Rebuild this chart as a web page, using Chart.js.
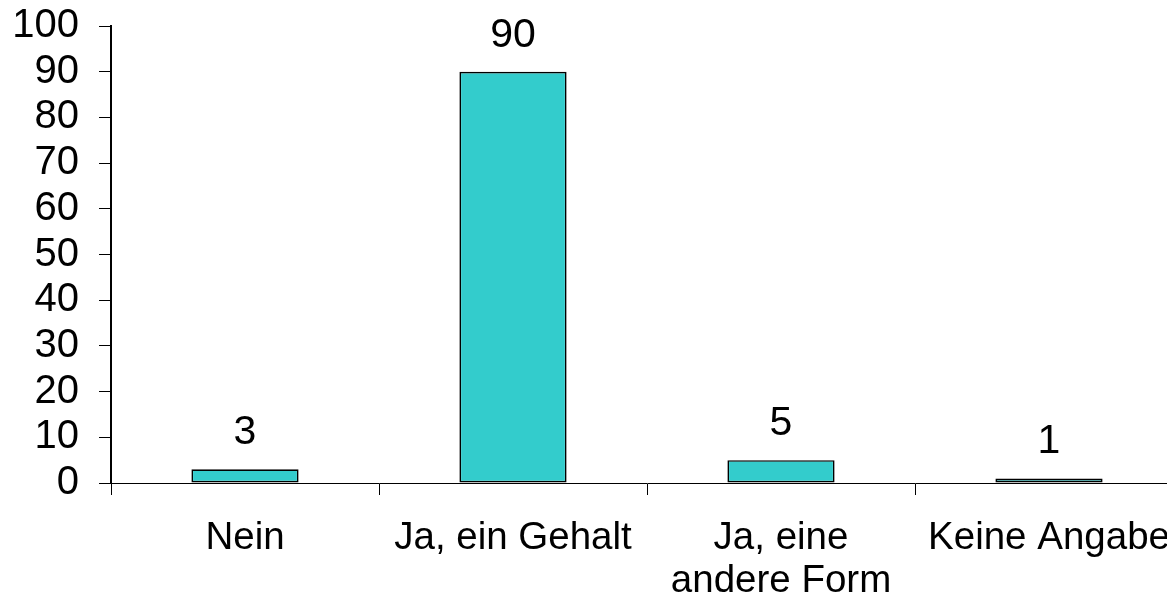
<!DOCTYPE html>
<html>
<head>
<meta charset="utf-8">
<script src="https://cdn.jsdelivr.net/npm/chart.js@4/dist/chart.umd.min.js"></script>
<style>
html,body{margin:0;padding:0;background:#fff;overflow:hidden;}
#wrap{width:1200px;height:600px;}
</style>
</head>
<body>
<div id="wrap"><canvas id="c" width="1200" height="600"></canvas></div>
<script>
const categories = [["Nein"], ["Ja, ein Gehalt"], ["Ja, eine", "andere Form"], ["Keine Angabe"]];
const values = [3, 90, 5, 1];
const yTicks = [0, 10, 20, 30, 40, 50, 60, 70, 80, 90, 100];

const FONT = '"Liberation Sans", Arial, sans-serif';

const dataLabels = {
  id: 'dataLabels',
  afterDatasetsDraw(chart) {
    const ctx = chart.ctx;
    const meta = chart.getDatasetMeta(0);
    ctx.save();
    ctx.fillStyle = '#000';
    ctx.font = '41px ' + FONT;
    ctx.textAlign = 'center';
    ctx.textBaseline = 'alphabetic';
    meta.data.forEach((bar, i) => {
      ctx.fillText(String(values[i]), bar.x, bar.y - 25);
    });
    ctx.restore();
  }
};

new Chart(document.getElementById('c'), {
  type: 'bar',
  data: {
    labels: categories,
    datasets: [{
      data: values,
      backgroundColor: '#33CCCC',
      borderColor: '#000000',
      borderWidth: 1.7,
      borderSkipped: false,
      categoryPercentage: 1,
      barPercentage: 0.4
    }]
  },
  options: {
    responsive: false,
    animation: false,
    devicePixelRatio: 1,
    layout: { padding: { top: 26, right: 17, left: 0, bottom: 0 } },
    plugins: { legend: { display: false }, tooltip: { enabled: false } },
    scales: {
      x: {
        offset: true,
        grid: { offset: true, drawOnChartArea: false, drawTicks: true, tickLength: 12, color: '#000', lineWidth: 1 },
        border: { display: true, color: '#000', width: 1 },
        ticks: { color: '#000', font: { family: FONT, size: 38.5, lineHeight: 1.14 }, padding: 21, maxRotation: 0, autoSkip: false },
        afterFit(scale) { scale.height = 117; scale.paddingLeft = 0; scale.paddingRight = 0; }
      },
      y: {
        min: 0, max: 100,
        afterBuildTicks(scale) { scale.ticks = yTicks.map(v => ({ value: v })); },
        grid: { drawOnChartArea: false, drawTicks: true, tickLength: 12, color: '#000', lineWidth: 1 },
        border: { display: true, color: '#000', width: 2 },
        ticks: { color: '#000', font: { family: FONT, size: 40 }, padding: 20, autoSkip: false },
        afterFit(scale) { scale.width = 111; scale.paddingTop = 0; scale.paddingBottom = 0; }
      }
    }
  },
  plugins: [dataLabels]
});
</script>
</body>
</html>
